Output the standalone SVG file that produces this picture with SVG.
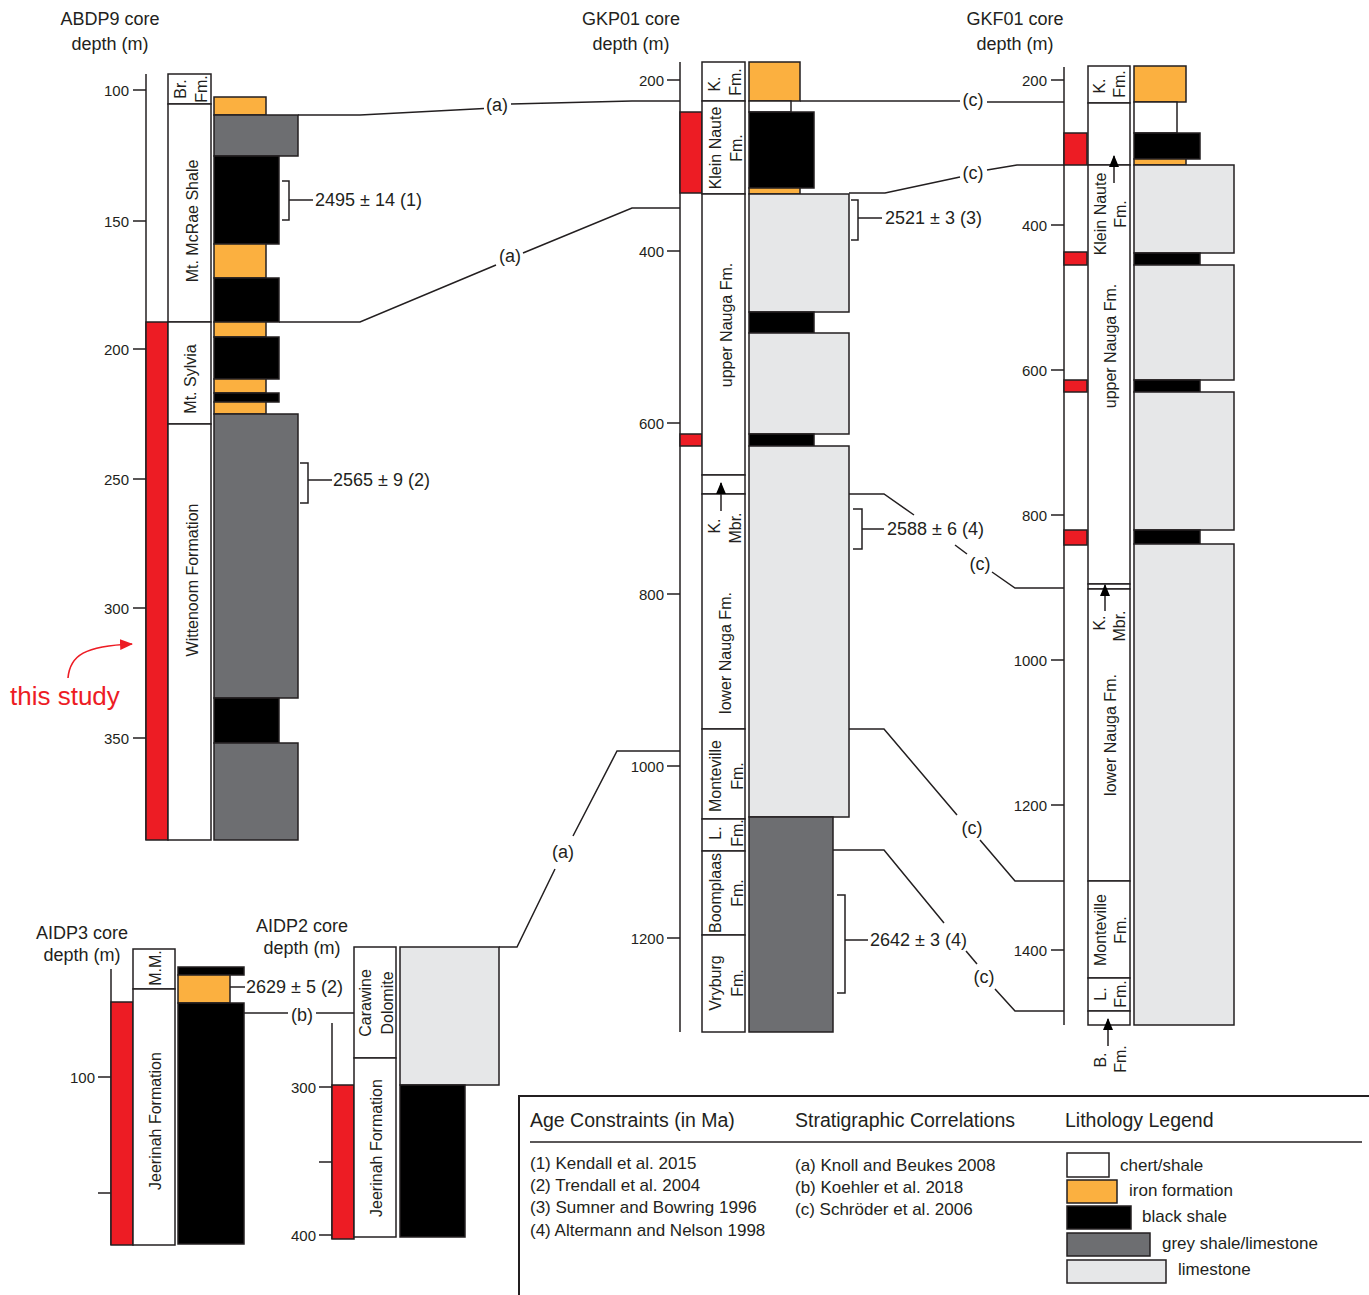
<svg xmlns="http://www.w3.org/2000/svg" width="1369" height="1295" viewBox="0 0 1369 1295">
<defs>
<style>
text{font-family:"Liberation Sans",Arial,sans-serif;fill:#231f20}
.t{font-size:18px;text-anchor:middle}
.k{font-size:15px;text-anchor:end}
.f{font-size:16px;text-anchor:middle;dominant-baseline:central}
.ag{font-size:18px}
.cl{font-size:18px;text-anchor:middle}
.lh{font-size:19.5px}
.li{font-size:17px}
rect{stroke:#231f20;stroke-width:1.5}
.w{fill:#fff}
.fe{fill:#fbb040}
.bk{fill:#000}
.gr{fill:#6d6e71}
.ls{fill:#e6e7e8}
.rd{fill:#ed1c24}
.ln{fill:none;stroke:#231f20;stroke-width:1.5}
</style>
<marker id="ah" viewBox="0 0 12 10" refX="11" refY="5" markerWidth="12" markerHeight="10" markerUnits="userSpaceOnUse" orient="auto"><path d="M0,0 L12,5 L0,10 z" fill="#000"/></marker>
<marker id="ahr" viewBox="0 0 12 10" refX="11" refY="5" markerWidth="13" markerHeight="11" markerUnits="userSpaceOnUse" orient="auto"><path d="M0,0 L12,5 L0,10 z" fill="#ed1c24"/></marker>
</defs>

<g id="connectors">
<polyline class="ln" points="298,115 360,115 484,108.5"/>
<polyline class="ln" points="511,104 632,101 680,101"/>
<polyline class="ln" points="279,322 360,322 496,265"/>
<polyline class="ln" points="523,253 632,208 680,208"/>
<polyline class="ln" points="680,751 617,751 573,836"/>
<polyline class="ln" points="555,869 517,947 499,947"/>
<polyline class="ln" points="244,1013 288,1013"/>
<polyline class="ln" points="316,1013 354,1013"/>
<polyline class="ln" points="800,101 960,101"/>
<polyline class="ln" points="987,102 1064,102"/>
<polyline class="ln" points="849,193 885,193 960,177"/>
<polyline class="ln" points="987,170 1017,165 1064,165"/>
<polyline class="ln" points="849,494 884,494 914,515"/>
<polyline class="ln" points="955,545 967,554"/>
<polyline class="ln" points="992,572 1015,588 1064,588"/>
<polyline class="ln" points="849,729 884,729 957,815"/>
<polyline class="ln" points="980,840 1015,881 1064,881"/>
<polyline class="ln" points="833,850 884,850 944,923"/>
<polyline class="ln" points="966,951 977,964"/>
<polyline class="ln" points="995,989 1015,1011 1064,1011"/>
<text class="cl" x="497" y="111">(a)</text>
<text class="cl" x="510" y="262">(a)</text>
<text class="cl" x="563" y="858">(a)</text>
<text class="cl" x="302" y="1021">(b)</text>
<text class="cl" x="973" y="106">(c)</text>
<text class="cl" x="973" y="179">(c)</text>
<text class="cl" x="980" y="570">(c)</text>
<text class="cl" x="972" y="834">(c)</text>
<text class="cl" x="984" y="983">(c)</text>
</g>

<g id="abdp9">
<text class="t" x="110" y="25">ABDP9 core</text>
<text class="t" x="110" y="50">depth (m)</text>
<line class="ln" x1="146" y1="74" x2="146" y2="840"/>
<path class="ln" d="M133,90H146M133,221H146M133,349H146M133,479H146M133,608H146M133,738H146"/>
<text class="k" x="129" y="96">100</text>
<text class="k" x="129" y="227">150</text>
<text class="k" x="129" y="355">200</text>
<text class="k" x="129" y="485">250</text>
<text class="k" x="129" y="614">300</text>
<text class="k" x="129" y="744">350</text>
<rect class="rd" x="146" y="322" width="22" height="518"/>
<rect class="w" x="168" y="74" width="43" height="30"/>
<rect class="w" x="168" y="104" width="43" height="218"/>
<rect class="w" x="168" y="322" width="43" height="102"/>
<rect class="w" x="168" y="424" width="43" height="416"/>
<text class="f" transform="translate(180,89) rotate(-90)">Br.</text>
<text class="f" transform="translate(201,89) rotate(-90)">Fm.</text>
<text class="f" transform="translate(192,221) rotate(-90)">Mt. McRae Shale</text>
<text class="f" transform="translate(190,379) rotate(-90)">Mt. Sylvia</text>
<text class="f" transform="translate(192,580) rotate(-90)">Wittenoom Formation</text>
<rect class="fe" x="214" y="97" width="52" height="18"/>
<rect class="gr" x="214" y="115" width="84" height="41"/>
<rect class="bk" x="214" y="156" width="65" height="88"/>
<rect class="fe" x="214" y="244" width="52" height="34"/>
<rect class="bk" x="214" y="278" width="65" height="44"/>
<rect class="fe" x="214" y="322" width="52" height="15"/>
<rect class="bk" x="214" y="337" width="65" height="42"/>
<rect class="fe" x="214" y="379" width="52" height="14"/>
<rect class="bk" x="214" y="393" width="65" height="9"/>
<rect class="fe" x="214" y="402" width="52" height="12"/>
<rect class="gr" x="214" y="414" width="84" height="284"/>
<rect class="bk" x="214" y="698" width="65" height="45"/>
<rect class="gr" x="214" y="743" width="84" height="97"/>
<path class="ln" d="M282,181H289V220H282M289,200H313"/>
<text class="ag" x="315" y="206">2495 ± 14 (1)</text>
<path class="ln" d="M300,463H308V503H300M308,480H332"/>
<text class="ag" x="333" y="486">2565 ± 9 (2)</text>
<text x="10" y="705" style="font-size:26px;fill:#ed1c24">this study</text>
<path d="M68,678 C70,655 85,646 132,644" fill="none" stroke="#ed1c24" stroke-width="1.6" marker-end="url(#ahr)"/>
</g>

<g id="gkp01">
<text class="t" x="631" y="25">GKP01 core</text>
<text class="t" x="631" y="50">depth (m)</text>
<line class="ln" x1="680" y1="62" x2="680" y2="1032"/>
<path class="ln" d="M667,80H680M667,251H680M667,423H680M667,594H680M667,766H680M667,938H680"/>
<text class="k" x="664" y="86">200</text>
<text class="k" x="664" y="257">400</text>
<text class="k" x="664" y="429">600</text>
<text class="k" x="664" y="600">800</text>
<text class="k" x="664" y="772">1000</text>
<text class="k" x="664" y="944">1200</text>
<rect class="rd" x="680" y="112" width="22" height="81"/>
<rect class="rd" x="680" y="434" width="22" height="12"/>
<rect class="w" x="702" y="62" width="43" height="39"/>
<rect class="w" x="702" y="101" width="43" height="93"/>
<rect class="w" x="702" y="194" width="43" height="281"/>
<rect class="w" x="702" y="475" width="43" height="19"/>
<rect class="w" x="702" y="494" width="43" height="235"/>
<rect class="w" x="702" y="729" width="43" height="90"/>
<rect class="w" x="702" y="819" width="43" height="32"/>
<rect class="w" x="702" y="851" width="43" height="84"/>
<rect class="w" x="702" y="935" width="43" height="97"/>
<text class="f" transform="translate(714,84) rotate(-90)">K.</text>
<text class="f" transform="translate(735,82) rotate(-90)">Fm.</text>
<text class="f" transform="translate(715,148) rotate(-90)">Klein Naute</text>
<text class="f" transform="translate(736,148) rotate(-90)">Fm.</text>
<text class="f" transform="translate(726,325) rotate(-90)">upper Nauga Fm.</text>
<text class="f" transform="translate(714,526) rotate(-90)">K.</text>
<text class="f" transform="translate(735,528) rotate(-90)">Mbr.</text>
<line class="ln" x1="721" y1="511" x2="721" y2="483" marker-end="url(#ah)"/>
<text class="f" transform="translate(725,653) rotate(-90)">lower Nauga Fm.</text>
<text class="f" transform="translate(715,776) rotate(-90)">Monteville</text>
<text class="f" transform="translate(737,776) rotate(-90)">Fm.</text>
<text class="f" transform="translate(715,833) rotate(-90)">L.</text>
<text class="f" transform="translate(737,833) rotate(-90)">Fm.</text>
<text class="f" transform="translate(715,893) rotate(-90)">Boomplaas</text>
<text class="f" transform="translate(737,893) rotate(-90)">Fm.</text>
<text class="f" transform="translate(715,983) rotate(-90)">Vryburg</text>
<text class="f" transform="translate(737,983) rotate(-90)">Fm.</text>
<rect class="fe" x="749" y="62" width="51" height="39"/>
<rect class="w" x="749" y="101" width="42" height="11"/>
<rect class="bk" x="749" y="112" width="65" height="76"/>
<rect class="fe" x="749" y="188" width="51" height="6"/>
<rect class="ls" x="749" y="194" width="100" height="118"/>
<rect class="bk" x="749" y="312" width="65" height="21"/>
<rect class="ls" x="749" y="333" width="100" height="101"/>
<rect class="bk" x="749" y="434" width="65" height="12"/>
<rect class="ls" x="749" y="446" width="100" height="371"/>
<rect class="gr" x="749" y="817" width="84" height="215"/>
<path class="ln" d="M851,200H858V240H851M858,218H882"/>
<text class="ag" x="885" y="224">2521 ± 3 (3)</text>
<path class="ln" d="M853,509H862V549H853M862,529H884"/>
<text class="ag" x="887" y="535">2588 ± 6 (4)</text>
<path class="ln" d="M837,895H845V993H837M845,940H868"/>
<text class="ag" x="870" y="946">2642 ± 3 (4)</text>
</g>

<g id="gkf01">
<text class="t" x="1015" y="25">GKF01 core</text>
<text class="t" x="1015" y="50">depth (m)</text>
<line class="ln" x1="1064" y1="67" x2="1064" y2="1025"/>
<path class="ln" d="M1051,80H1064M1051,225H1064M1051,370H1064M1051,515H1064M1051,660H1064M1051,805H1064M1051,950H1064"/>
<text class="k" x="1047" y="86">200</text>
<text class="k" x="1047" y="231">400</text>
<text class="k" x="1047" y="376">600</text>
<text class="k" x="1047" y="521">800</text>
<text class="k" x="1047" y="666">1000</text>
<text class="k" x="1047" y="811">1200</text>
<text class="k" x="1047" y="956">1400</text>
<rect class="rd" x="1064" y="133" width="23" height="32"/>
<rect class="rd" x="1064" y="252" width="23" height="13"/>
<rect class="rd" x="1064" y="380" width="23" height="12"/>
<rect class="rd" x="1064" y="530" width="23" height="15"/>
<rect class="w" x="1088" y="66" width="42" height="37"/>
<rect class="w" x="1088" y="103" width="42" height="62"/>
<rect class="w" x="1088" y="165" width="42" height="419"/>
<rect class="w" x="1088" y="584" width="42" height="5"/>
<rect class="w" x="1088" y="589" width="42" height="292"/>
<rect class="w" x="1088" y="881" width="42" height="97"/>
<rect class="w" x="1088" y="978" width="42" height="33"/>
<rect class="w" x="1088" y="1011" width="42" height="14"/>
<text class="f" transform="translate(1099,86) rotate(-90)">K.</text>
<text class="f" transform="translate(1119,84) rotate(-90)">Fm.</text>
<text class="f" transform="translate(1100,214) rotate(-90)">Klein Naute</text>
<text class="f" transform="translate(1120,214) rotate(-90)">Fm.</text>
<line class="ln" x1="1114" y1="183" x2="1114" y2="156" marker-end="url(#ah)"/>
<text class="f" transform="translate(1110,346) rotate(-90)">upper Nauga Fm.</text>
<text class="f" transform="translate(1099,623) rotate(-90)">K.</text>
<text class="f" transform="translate(1119,626) rotate(-90)">Mbr.</text>
<line class="ln" x1="1105" y1="611" x2="1105" y2="585" marker-end="url(#ah)"/>
<text class="f" transform="translate(1110,735) rotate(-90)">lower Nauga Fm.</text>
<text class="f" transform="translate(1100,930) rotate(-90)">Monteville</text>
<text class="f" transform="translate(1120,930) rotate(-90)">Fm.</text>
<text class="f" transform="translate(1100,994) rotate(-90)">L.</text>
<text class="f" transform="translate(1120,994) rotate(-90)">Fm.</text>
<text class="f" transform="translate(1100,1060) rotate(-90)">B.</text>
<text class="f" transform="translate(1120,1059) rotate(-90)">Fm.</text>
<line class="ln" x1="1108" y1="1046" x2="1108" y2="1019" marker-end="url(#ah)"/>
<rect class="fe" x="1134" y="66" width="52" height="36"/>
<rect class="w" x="1134" y="102" width="43" height="31"/>
<rect class="bk" x="1134" y="133" width="66" height="26"/>
<rect class="fe" x="1134" y="159" width="52" height="6"/>
<rect class="ls" x="1134" y="165" width="100" height="88"/>
<rect class="bk" x="1134" y="253" width="66" height="12"/>
<rect class="ls" x="1134" y="265" width="100" height="115"/>
<rect class="bk" x="1134" y="380" width="66" height="12"/>
<rect class="ls" x="1134" y="392" width="100" height="138"/>
<rect class="bk" x="1134" y="530" width="66" height="14"/>
<rect class="ls" x="1134" y="544" width="100" height="481"/>
</g>

<g id="aidp3">
<text class="t" x="82" y="939">AIDP3 core</text>
<text class="t" x="82" y="961">depth (m)</text>
<line class="ln" x1="111" y1="969" x2="111" y2="1245"/>
<path class="ln" d="M98,1077H111M98,1193H111"/>
<text class="k" x="95" y="1083">100</text>
<rect class="rd" x="111" y="1002" width="22" height="243"/>
<rect class="w" x="133" y="949" width="42" height="40"/>
<rect class="w" x="133" y="989" width="42" height="256"/>
<text class="f" transform="translate(155,968) rotate(-90)">M.M.</text>
<text class="f" transform="translate(155,1121) rotate(-90)">Jeerinah Formation</text>
<rect class="bk" x="178" y="967" width="66" height="8"/>
<rect class="fe" x="178" y="975" width="52" height="28"/>
<rect class="bk" x="178" y="1003" width="66" height="241"/>
<path class="ln" d="M230,987H245"/>
<text class="ag" x="246" y="993">2629 ± 5 (2)</text>
</g>

<g id="aidp2">
<text class="t" x="302" y="932">AIDP2 core</text>
<text class="t" x="302" y="954">depth (m)</text>
<line class="ln" x1="332" y1="1023" x2="332" y2="1239"/>
<path class="ln" d="M319,1087H332M319,1162H332M319,1235H332"/>
<text class="k" x="316" y="1093">300</text>
<text class="k" x="316" y="1241">400</text>
<rect class="rd" x="332" y="1085" width="22" height="154"/>
<rect class="w" x="354" y="947" width="42" height="111"/>
<rect class="w" x="354" y="1058" width="42" height="179"/>
<text class="f" transform="translate(365,1003) rotate(-90)">Carawine</text>
<text class="f" transform="translate(387,1003) rotate(-90)">Dolomite</text>
<text class="f" transform="translate(376,1148) rotate(-90)">Jeerinah Formation</text>
<rect class="ls" x="400" y="947" width="99" height="138"/>
<rect class="bk" x="400" y="1085" width="65" height="152"/>
</g>

<g id="legend">
<path d="M1369,1096H519V1295" fill="none" stroke="#231f20" stroke-width="2"/>
<line x1="530" y1="1142" x2="1362" y2="1142" stroke="#231f20" stroke-width="1.5"/>
<text class="lh" x="530" y="1127">Age Constraints (in Ma)</text>
<text class="lh" x="795" y="1127">Stratigraphic Correlations</text>
<text class="lh" x="1065" y="1127">Lithology Legend</text>
<text class="li" x="530" y="1169">(1) Kendall et al. 2015</text>
<text class="li" x="530" y="1191">(2) Trendall et al. 2004</text>
<text class="li" x="530" y="1213">(3) Sumner and Bowring 1996</text>
<text class="li" x="530" y="1236">(4) Altermann and Nelson 1998</text>
<text class="li" x="795" y="1171">(a) Knoll and Beukes 2008</text>
<text class="li" x="795" y="1193">(b) Koehler et al. 2018</text>
<text class="li" x="795" y="1215">(c) Schröder et al. 2006</text>
<rect class="w" x="1067" y="1153" width="42" height="24"/>
<rect class="fe" x="1067" y="1180" width="50" height="23"/>
<rect class="bk" x="1067" y="1206" width="64" height="23"/>
<rect class="gr" x="1067" y="1233" width="83" height="23"/>
<rect class="ls" x="1067" y="1260" width="99" height="23"/>
<text class="li" x="1120" y="1171">chert/shale</text>
<text class="li" x="1129" y="1196">iron formation</text>
<text class="li" x="1142" y="1222">black shale</text>
<text class="li" x="1162" y="1249">grey shale/limestone</text>
<text class="li" x="1178" y="1275">limestone</text>
</g>
</svg>
